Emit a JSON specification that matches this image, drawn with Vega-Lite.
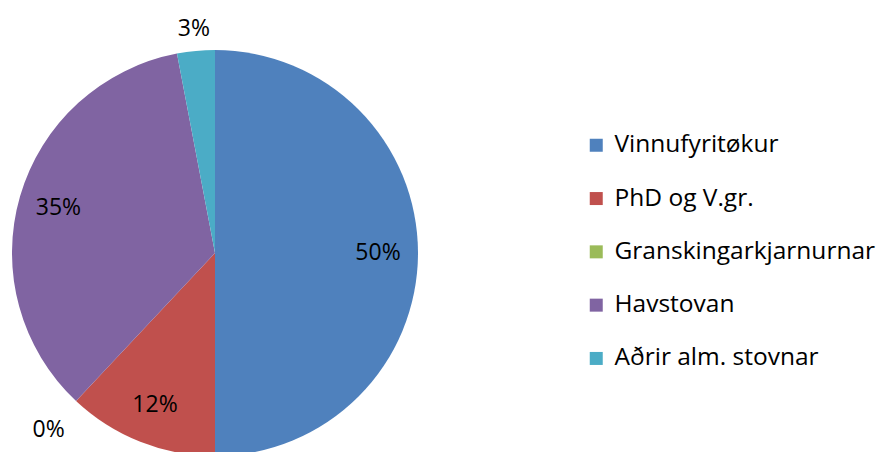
{
  "$schema": "https://vega.github.io/schema/vega-lite/v6.json",
  "width": 880,
  "height": 452,
  "padding": 0,
  "autosize": "none",
  "background": "white",
  "config": {"view": {"stroke": null}, "font": "Open Sans"},
  "data": {
    "values": [
      {"cat": "Vinnufyritøkur", "pct": 50, "n": 1},
      {"cat": "PhD og V.gr.", "pct": 12, "n": 2},
      {"cat": "Granskingarkjarnurnar", "pct": 0, "n": 3},
      {"cat": "Havstovan", "pct": 35, "n": 4},
      {"cat": "Aðrir alm. stovnar", "pct": 3, "n": 5}
    ]
  },
  "transform": [
    {"calculate": "datum.pct + '%'", "as": "label"},
    {"stack": "pct", "groupby": [], "sort": [{"field": "n", "order": "ascending"}], "as": ["s0", "s1"]},
    {"calculate": "(datum.s0 + datum.s1) / 2", "as": "mid"}
  ],
  "layer": [
    {
      "mark": {"type": "arc", "x": 215, "y": 253, "outerRadius": 203},
      "encoding": {
        "theta": {"field": "s0", "type": "quantitative", "scale": {"domain": [0, 100]}},
        "theta2": {"field": "s1"},
        "color": {
          "field": "cat",
          "type": "nominal",
          "sort": ["Vinnufyritøkur", "PhD og V.gr.", "Granskingarkjarnurnar", "Havstovan", "Aðrir alm. stovnar"],
          "scale": {
            "domain": ["Vinnufyritøkur", "PhD og V.gr.", "Granskingarkjarnurnar", "Havstovan", "Aðrir alm. stovnar"],
            "range": ["#4F81BD", "#C0504D", "#9BBB59", "#8064A2", "#4BACC6"]
          },
          "legend": {
            "title": null,
            "orient": "none",
            "legendX": 584,
            "legendY": 133,
            "symbolType": "square",
            "symbolSize": 169,
            "symbolStrokeWidth": 0,
            "labelFontSize": 24.5,
            "labelFont": "Open Sans",
            "labelColor": "#000000",
            "labelOffset": 6,
            "rowPadding": 28.3,
            "labelLimit": 400
          }
        }
      }
    },
    {
      "transform": [{"filter": "datum.pct >= 10"}],
      "mark": {"type": "text", "x": 215, "y": 253, "radius": 163, "fontSize": 23, "font": "Open Sans", "color": "#000000"},
      "encoding": {
        "theta": {"field": "mid", "type": "quantitative", "scale": {"domain": [0, 100]}},
        "text": {"field": "label", "type": "nominal"}
      }
    },
    {
      "transform": [{"filter": "datum.cat == 'Aðrir alm. stovnar'"}],
      "mark": {"type": "text", "x": 215, "y": 253, "radius": 225, "fontSize": 23, "font": "Open Sans", "color": "#000000"},
      "encoding": {
        "theta": {"field": "mid", "type": "quantitative", "scale": {"domain": [0, 100]}},
        "text": {"field": "label", "type": "nominal"}
      }
    },
    {
      "transform": [{"filter": "datum.cat == 'Granskingarkjarnurnar'"}],
      "mark": {"type": "text", "x": 215, "y": 253, "radius": 243, "fontSize": 23, "font": "Open Sans", "color": "#000000"},
      "encoding": {
        "theta": {"field": "mid", "type": "quantitative", "scale": {"domain": [0, 100]}},
        "text": {"field": "label", "type": "nominal"}
      }
    }
  ]
}
